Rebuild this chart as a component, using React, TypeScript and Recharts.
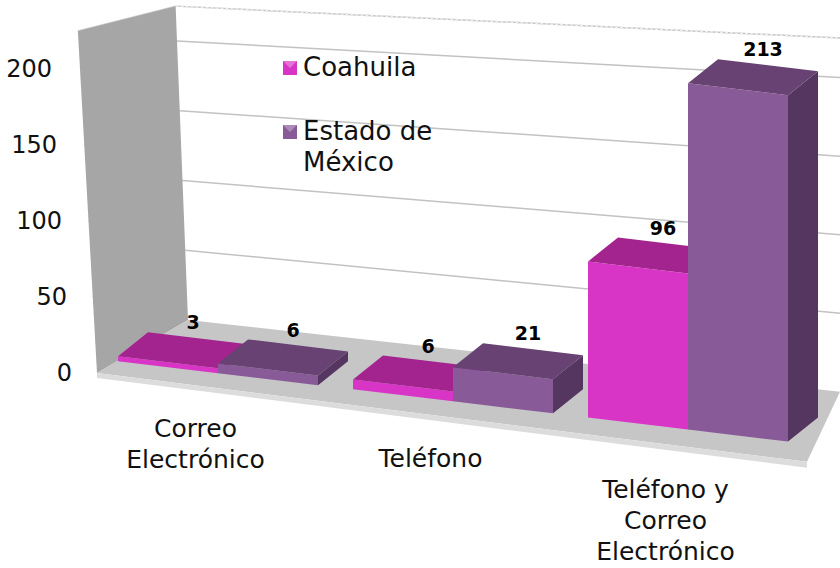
import React from "react";
import {
  Bar,
  BarChart,
  CartesianGrid,
  LabelList,
  Legend,
  ReferenceArea,
  XAxis,
  YAxis,
} from "recharts";

const categories = ["Correo Electrónico", "Teléfono", "Teléfono y Correo Electrónico"];
const coahuila = [3, 6, 96];
const estadoDeMexico = [6, 21, 213];
const yTicks = [0, 50, 100, 150, 200];

const data = categories.map((name, i) => ({
  name,
  coahuila: coahuila[i],
  edomex: estadoDeMexico[i],
}));

const FONT = "'DejaVu Sans', sans-serif";
const W = 840;
const H = 568;
const MARGIN = { top: 31, right: 35, bottom: 165, left: 0 };
const X_AXIS_H = 30;
const PLOT_L = 100;
const PLOT_B = H - MARGIN.bottom - X_AXIS_H;
const Y_MAX = 225;
const PX_PER_UNIT = (PLOT_B - MARGIN.top) / Y_MAX;

const COAHUILA = { front: "#d835c6", top: "#a4248f", side: "#8c1f7a" };
const EDOMEX = { front: "#885a97", top: "#674272", side: "#553660" };

// fake perspective: front plane sits lower and a bit bigger than the back wall
const K = 0.12;
const LIFT = -14;
const FRONT_SCALE = 1.07;
const DX = 30;
const DY = 24;
const shift = (x: number) => LIFT + K * (x - PLOT_L);
const valueAt = (y: number) => (PLOT_B - y) / PX_PER_UNIT;
const wallFront = (v: number) => 97 - 0.085 * v;
const wallBack = (v: number) => 188 - 0.055 * v;
const rise = (v: number) => 53 - 0.125 * v;
const backSlope = (v: number) => 0.11 - 0.000275 * v;

const pts = (p: number[][]) => p.map((q) => q.join(",")).join(" ");

function Room() {
  const yTop = MARGIN.top;
  const wall = [
    [wallFront(Y_MAX), yTop],
    [wallBack(Y_MAX), yTop - rise(Y_MAX)],
    [wallBack(0), PLOT_B - rise(0)],
    [wallFront(0), PLOT_B],
  ];
  const backY0 = PLOT_B - rise(0);
  const frontR = PLOT_B + 0.125 * (807 - wallFront(0));
  const floor = [
    [wallFront(0), PLOT_B],
    [wallBack(0), backY0],
    [W, backY0 + backSlope(0) * (W - wallBack(0))],
    [807, frontR],
  ];
  const lip = [
    [wallFront(0), PLOT_B],
    [807, frontR],
    [807, frontR + 6],
    [wallFront(0), PLOT_B + 5],
  ];
  const tx = wallBack(Y_MAX);
  const ty = yTop - rise(Y_MAX);
  return (
    <g>
      <line x1={tx} y1={ty} x2={W} y2={ty + backSlope(Y_MAX) * (W - tx)} stroke="#ececec" strokeWidth={1.5} strokeDasharray="3 2" />
      <polygon points={pts(wall)} fill="#a6a6a6" />
      <polygon points={pts(floor)} fill="#c6c6c6" />
      <polygon points={pts(lip)} fill="#dcdcdc" />
    </g>
  );
}

const gridLine = (p: any) => {
  const y = p.y1;
  const v = valueAt(y);
  const k = `grid-${Math.round(y)}`;
  if (v < 1) return <g key={k} />;
  const x0 = wallFront(v);
  const x1 = wallBack(v);
  const yb = y - rise(v);
  const y2 = yb + backSlope(v) * (W - x1);
  return (
    <g key={k}>
      <line x1={x0} y1={y} x2={x1} y2={yb} stroke="#d2d2d2" strokeWidth={1.5} />
      <line x1={x1} y1={yb} x2={W} y2={y2} stroke="#c2c2c2" strokeWidth={1.5} />
    </g>
  );
};

function Bar3D(props: any) {
  const { x, y: y0, width: w, height: h0, colors } = props;
  if (w == null || h0 == null) return null;
  const h = h0 * FRONT_SCALE;
  const y = y0 + h0 - h;
  const sl = shift(x);
  const sr = shift(x + w);
  const front = [
    [x, y + sl],
    [x + w, y + sr],
    [x + w, y + h + sr],
    [x, y + h + sl],
  ];
  const top = [
    [x, y + sl],
    [x + DX, y + sl - DY],
    [x + w + DX, y + sr - DY],
    [x + w, y + sr],
  ];
  const side = [
    [x + w, y + sr],
    [x + w + DX, y + sr - DY],
    [x + w + DX, y + h + sr - DY],
    [x + w, y + h + sr],
  ];
  return (
    <g>
      <polygon points={pts(side)} fill={colors.side} />
      <polygon points={pts(front)} fill={colors.front} />
      <polygon points={pts(top)} fill={colors.top} />
    </g>
  );
}

const valueLabel = (p: any) => {
  const vb = p.viewBox || p;
  const { x, y, width, height } = vb;
  const top = y - (FRONT_SCALE - 1) * (height || 0);
  const lx = x + width * 0.6 + DX / 2;
  const ly = top + shift(lx - DX / 2) - DY - 10;
  return (
    <text x={lx} y={ly} textAnchor="middle" fontFamily={FONT} fontWeight="bold" fontSize={19} fill="#000">
      {p.value}
    </text>
  );
};

function wrap(text: string, max: number) {
  const lines: string[] = [];
  let cur = "";
  text.split(" ").forEach((word) => {
    if (!cur) cur = word;
    else if ((cur + " " + word).length <= max) cur += " " + word;
    else {
      lines.push(cur);
      cur = word;
    }
  });
  if (cur) lines.push(cur);
  return lines;
}

function CategoryTick(props: any) {
  const { x, y, payload } = props;
  const lines = wrap(payload.value, 11);
  const cx = x - 22;
  const base = y + 32 + 0.13 * (x - PLOT_L);
  return (
    <text textAnchor="middle" fontFamily={FONT} fontSize={25} fill="#111">
      {lines.map((line, i) => (
        <tspan key={i} x={cx} y={base + i * 31} dominantBaseline="central">
          {line}
        </tspan>
      ))}
    </text>
  );
}

function ValueTick(props: any) {
  const v = props.payload.value;
  return (
    <text x={PLOT_L - 28 - 0.1 * v} y={props.y} textAnchor="end" dominantBaseline="central" fontFamily={FONT} fontSize={24} fill="#111">
      {v}
    </text>
  );
}

function LegendBox({ payload }: any) {
  return (
    <div style={{ fontFamily: FONT, fontSize: 26, color: "#111" }}>
      {(payload || []).map((entry: any, i: number) => (
        <div key={i} style={{ display: "flex", alignItems: "flex-start", marginBottom: 33 }}>
          <svg width={14} height={14} style={{ marginTop: 9, marginRight: 6, flex: "none" }}>
            <rect width={14} height={14} fill={entry.color} />
            <polygon points="0,0 14,0 7,7" fill="#ffffff" opacity={0.3} />
          </svg>
          <div style={{ width: 140, lineHeight: "31px" }}>{entry.value}</div>
        </div>
      ))}
    </div>
  );
}

export default function App() {
  return (
    <div style={{ width: W, height: H, background: "#fff" }}>
      <style>{`body{margin:0}`}</style>
      <BarChart width={W} height={H} data={data} margin={MARGIN} barGap={0} barSize={100}>
        <ReferenceArea y1={0} y2={Y_MAX} ifOverflow="visible" shape={() => <Room />} />
        <CartesianGrid vertical={false} horizontal={gridLine} />
        <XAxis dataKey="name" height={X_AXIS_H} axisLine={false} tickLine={false} tick={<CategoryTick />} interval={0} />
        <YAxis width={PLOT_L} domain={[0, Y_MAX]} ticks={yTicks} axisLine={false} tickLine={false} tick={<ValueTick />} />
        <Legend
          layout="vertical"
          align="center"
          verticalAlign="middle"
          content={<LegendBox />}
          wrapperStyle={{ left: 283, top: 52, width: 200 }}
        />
        <Bar dataKey="coahuila" name="Coahuila" fill={COAHUILA.front} isAnimationActive={false} shape={(p: any) => <Bar3D {...p} colors={COAHUILA} />}>
          <LabelList dataKey="coahuila" content={valueLabel} />
        </Bar>
        <Bar dataKey="edomex" name="Estado de México" fill={EDOMEX.front} isAnimationActive={false} shape={(p: any) => <Bar3D {...p} colors={EDOMEX} />}>
          <LabelList dataKey="edomex" content={valueLabel} />
        </Bar>
      </BarChart>
    </div>
  );
}
